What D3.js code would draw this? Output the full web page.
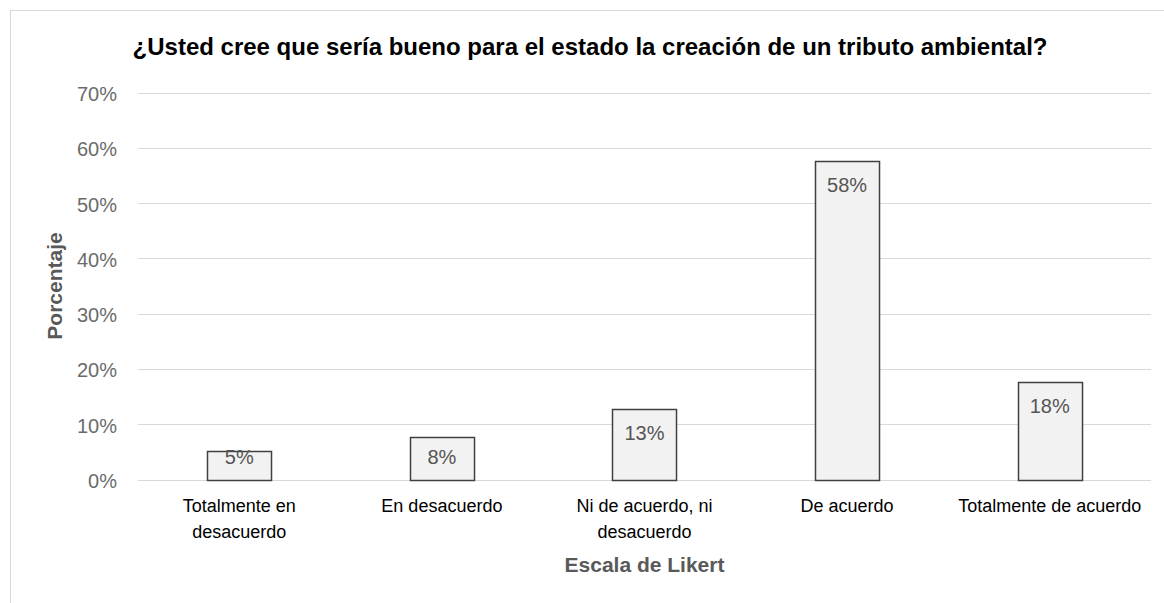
<!DOCTYPE html>
<html>
<head>
<meta charset="utf-8">
<script src="https://cdn.jsdelivr.net/npm/d3@7"></script>
<style>
  html, body { margin: 0; padding: 0; background: #ffffff; }
  svg { display: block; }
  text { font-family: "Liberation Sans", Arial, sans-serif; }
</style>
</head>
<body>
<svg id="chart" width="1164" height="603"></svg>
<script>
// Survey answers on a Likert scale (share of respondents)
const categories = [
  "Totalmente en\ndesacuerdo",
  "En desacuerdo",
  "Ni de acuerdo, ni\ndesacuerdo",
  "De acuerdo",
  "Totalmente de acuerdo"
];
const values = [0.052, 0.076, 0.128, 0.576, 0.177];
const yTicks = [0, 0.1, 0.2, 0.3, 0.4, 0.5, 0.6, 0.7];

const title = "¿Usted cree que sería bueno para el estado la creación de un tributo ambiental?";
const xTitle = "Escala de Likert";
const yTitle = "Porcentaje";

const svg = d3.select("#chart");
const plot = { left: 138, right: 1151, top: 92.5, bottom: 479.5 };

// chart area frame
svg.append("rect")
  .attr("x", 10.5).attr("y", 10.5)
  .attr("width", 1170).attr("height", 620)
  .attr("fill", "#ffffff")
  .attr("stroke", "#d9d9d9").attr("stroke-width", 1);

const x = d3.scaleBand()
  .domain(d3.range(categories.length))
  .range([plot.left, plot.right])
  .paddingInner(0.684)
  .paddingOuter(0.342);

const y = d3.scaleLinear()
  .domain([0, 0.7])
  .range([plot.bottom, plot.top]);

const pct = d3.format(".0%");

// horizontal gridlines
svg.append("g")
  .selectAll("line")
  .data(yTicks)
  .join("line")
  .attr("x1", plot.left).attr("x2", plot.right)
  .attr("y1", d => Math.round(y(d)) + 0.5)
  .attr("y2", d => Math.round(y(d)) + 0.5)
  .attr("stroke", "#d9d9d9").attr("stroke-width", 1);

// y axis labels
const yAxis = d3.axisLeft(y).tickValues(yTicks).tickFormat(pct).tickSize(0).tickPadding(0);
const yg = svg.append("g")
  .attr("transform", `translate(${117},0)`)
  .call(yAxis);
yg.select(".domain").remove();
yg.selectAll("text")
  .attr("fill", "#6b6b6b")
  .attr("font-size", 20)
  .attr("font-family", "'Liberation Sans', Arial, sans-serif")
  .attr("dy", "0.4em");

// bars
svg.append("g")
  .selectAll("rect")
  .data(values)
  .join("rect")
  .attr("x", (d, i) => Math.round(x(i)) + 0.5)
  .attr("y", d => Math.round(y(d)) + 0.5)
  .attr("width", x.bandwidth())
  .attr("height", d => Math.round(y(0)) - Math.round(y(d)))
  .attr("fill", "#f2f2f2")
  .attr("stroke", "#404040")
  .attr("stroke-width", 1.5);

// value labels, inside the top of each bar
svg.append("g")
  .selectAll("text")
  .data(values)
  .join("text")
  .attr("x", (d, i) => x(i) + x.bandwidth() / 2)
  .attr("y", d => Math.min(y(d) + 24, y(0) - 23))
  .attr("dy", "0.35em")
  .attr("text-anchor", "middle")
  .attr("font-size", 20)
  .attr("fill", "#555555")
  .text(d => pct(d));

// category labels
const xg = svg.append("g")
  .attr("transform", `translate(0,${plot.bottom})`)
  .call(d3.axisBottom(x).tickSize(0).tickFormat(""));
xg.select(".domain").remove();
xg.selectAll(".tick").each(function(d) {
  const lines = categories[d].split("\n");
  const t = d3.select(this).append("text")
    .attr("text-anchor", "middle")
    .attr("fill", "#000000")
    .attr("font-size", 18)
    .attr("font-family", "'Liberation Sans', Arial, sans-serif");
  lines.forEach((ln, k) => {
    t.append("tspan")
      .attr("x", 0)
      .attr("y", 26 + k * 25.7)
      .attr("dy", "0.35em")
      .text(ln);
  });
});

// axis titles
svg.append("text")
  .attr("x", (plot.left + plot.right) / 2)
  .attr("y", 565)
  .attr("dy", "0.35em")
  .attr("text-anchor", "middle")
  .attr("font-size", 21)
  .attr("font-weight", "bold")
  .attr("fill", "#595959")
  .text(xTitle);

svg.append("text")
  .attr("transform", `translate(55,${(plot.top + plot.bottom) / 2}) rotate(-90)`)
  .attr("dy", "0.35em")
  .attr("text-anchor", "middle")
  .attr("font-size", 21)
  .attr("font-weight", "bold")
  .attr("fill", "#595959")
  .text(yTitle);

// chart title
svg.append("text")
  .attr("x", 590)
  .attr("y", 47)
  .attr("dy", "0.35em")
  .attr("text-anchor", "middle")
  .attr("font-size", 24)
  .attr("font-weight", "bold")
  .attr("fill", "#000000")
  .text(title);
</script>
</body>
</html>
